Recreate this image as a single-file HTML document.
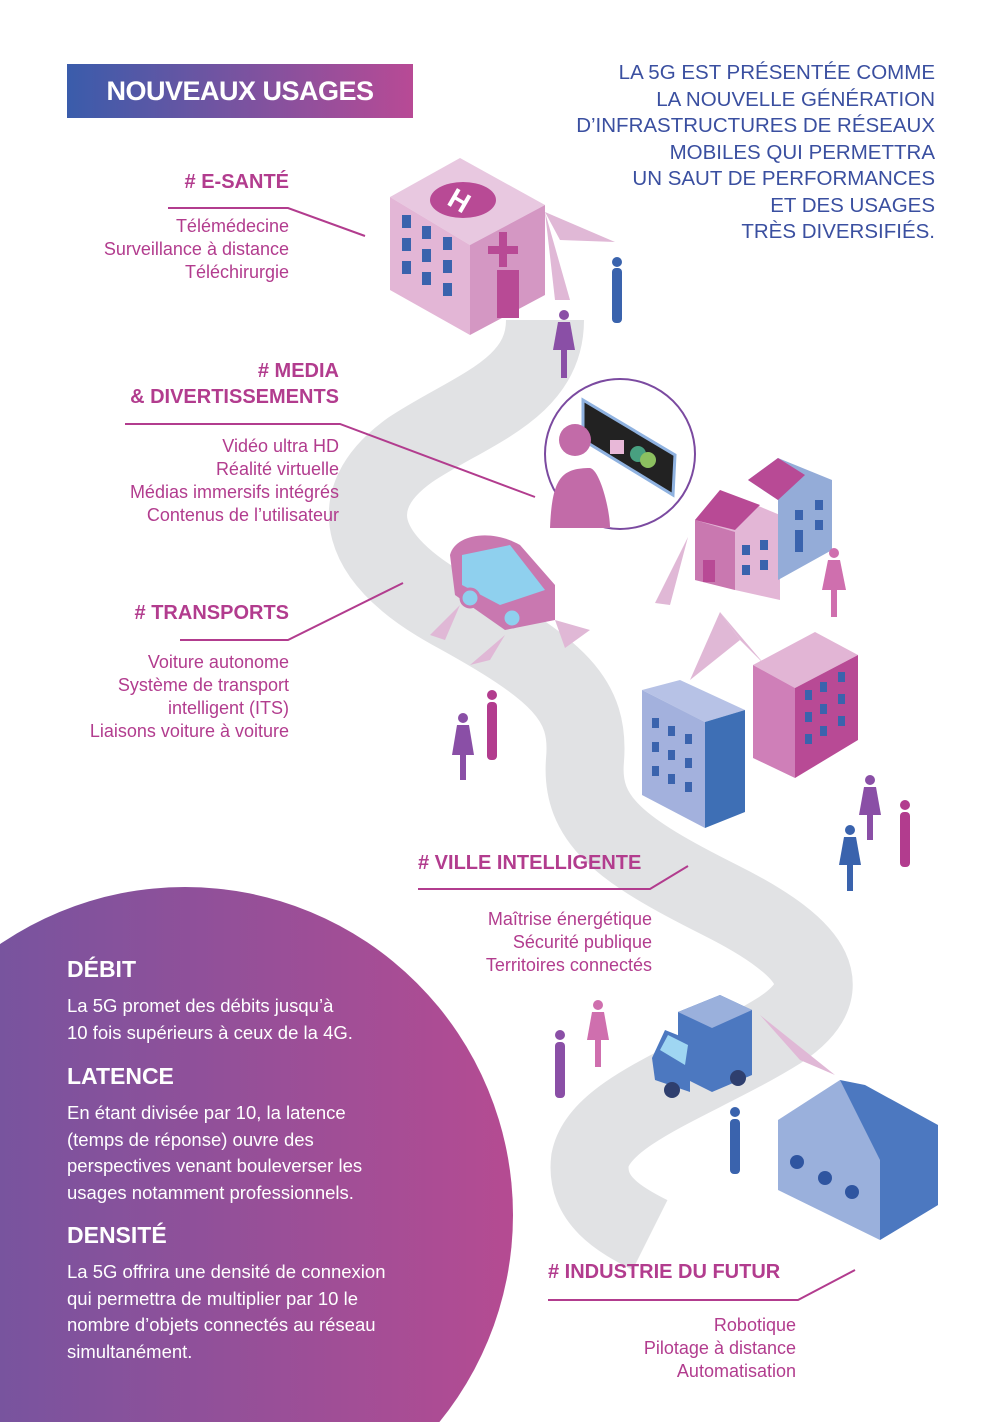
<!DOCTYPE html>
<html><head><meta charset="utf-8"><style>
html,body{margin:0;background:#fff;overflow:hidden;width:1004px;height:1422px;}
#c{position:relative;width:1004px;height:1422px;overflow:hidden;font-family:"Liberation Sans",sans-serif;}
.t{position:absolute;color:#b23c8e;font-size:18px;line-height:23px;text-align:right;}
.h{font-weight:bold;font-size:20px;line-height:26px;}
.w{position:absolute;color:#fff;left:67px;}
.w b{font-size:23px;display:block;margin-bottom:10px;}
.w p{margin:0;font-size:18.5px;line-height:26.5px;}
</style></head><body><div id="c">
<svg width="1004" height="1422" style="position:absolute;left:0;top:0">
<defs>
<linearGradient id="g1" x1="0" x2="1"><stop offset="0" stop-color="#3a5cab"/><stop offset="1" stop-color="#b84a95"/></linearGradient>
<linearGradient id="g2" x1="0" x2="1"><stop offset="0" stop-color="#6756a2"/><stop offset="1" stop-color="#b54b92"/></linearGradient>
</defs>
<circle cx="185" cy="1215" r="328" fill="url(#g2)"/>
<path d="M545 320 C545 390 470 410 410 450 C340 500 360 560 450 610 C560 670 590 700 585 760 C580 820 620 850 720 900 C820 950 840 990 780 1030 C700 1080 600 1110 590 1160 C585 1200 620 1220 650 1235" fill="none" stroke="#e1e2e4" stroke-width="78"/>
<g stroke="#b23c8e" stroke-width="2" fill="none">
<polyline points="168,208 288,208 365,236"/>
<polyline points="125,424 340,424 535,497"/>
<polyline points="180,640 288,640 403,583"/>
<polyline points="418,889 650,889 688,866"/>
<polyline points="548,1300 798,1300 855,1270"/>
</g>
<g fill="#e0b8d6">
<polygon points="545,212 615,242 560,240"/><polygon points="545,212 570,300 555,300"/>
<polygon points="688,537 655,603 670,605"/>
<polygon points="720,612 690,680 740,640"/><polygon points="720,612 765,665 740,640"/>
<polygon points="430,635 460,605 445,640"/><polygon points="470,665 505,635 490,660"/><polygon points="555,620 590,630 565,648"/>
<polygon points="760,1015 835,1075 800,1060"/>
</g>
<polygon points="390,197 460,158 545,205 470,245" fill="#e8c8e0"/>
<polygon points="390,197 470,245 470,335 390,290" fill="#e3b6d6"/>
<polygon points="470,245 545,205 545,295 470,335" fill="#d497c3"/>
<ellipse cx="463" cy="200" rx="33" ry="18" fill="#b84a95"/>
<text x="450" y="212" fill="#fff" font-size="28" font-weight="bold" transform="rotate(30 463 200)">H</text>
<g fill="#3a63ad"><rect x="402" y="215" width="9" height="13"/><rect x="422" y="226" width="9" height="13"/><rect x="443" y="237" width="9" height="13"/><rect x="402" y="238" width="9" height="13"/><rect x="422" y="249" width="9" height="13"/><rect x="443" y="260" width="9" height="13"/><rect x="402" y="261" width="9" height="13"/><rect x="422" y="272" width="9" height="13"/><rect x="443" y="283" width="9" height="13"/></g>
<rect x="497" y="270" width="22" height="48" fill="#b84a95"/><path d="M488 250h30M503 232v35" stroke="#b84a95" stroke-width="8"/>
<circle cx="620" cy="454" r="75" fill="#fff" stroke="#7b4aa0" stroke-width="2"/>
<polygon points="583,400 675,455 673,495 583,440" fill="#222" stroke="#8fb2e0" stroke-width="3"/>
<circle cx="575" cy="440" r="16" fill="#c26ba8"/><path d="M550 528 C552 480 560 468 590 468 C600 470 610 510 610 528Z" fill="#c26ba8"/>
<circle cx="638" cy="454" r="8" fill="#48a080"/><circle cx="648" cy="460" r="8" fill="#8cc060"/><rect x="610" y="440" width="14" height="14" fill="#e8b8d8"/>
<polygon points="695,520 720,490 780,515 780,600 735,590 695,580" fill="#e3b6d6"/>
<polygon points="748,480 778,458 832,480 832,550 778,580 778,500" fill="#94acd8"/>
<polygon points="695,520 720,490 760,505 735,530" fill="#b84a95"/><polygon points="748,480 778,458 805,475 778,500" fill="#b84a95"/>
<polygon points="695,520 735,532 735,590 695,580" fill="#c978b0"/>
<rect x="703" y="560" width="12" height="22" fill="#b84a95"/>
<g fill="#3a63ad"><rect x="742" y="545" width="8" height="10"/><rect x="760" y="540" width="8" height="10"/><rect x="742" y="565" width="8" height="10"/><rect x="760" y="560" width="8" height="10"/><rect x="795" y="510" width="8" height="10"/><rect x="815" y="500" width="8" height="10"/><rect x="795" y="530" width="8" height="22"/><rect x="815" y="520" width="8" height="10"/></g>
<path d="M450 555 C455 535 490 528 520 545 L555 585 L555 620 L505 630 L455 595Z" fill="#c978b0"/>
<polygon points="462,555 510,545 545,590 500,605 462,585" fill="#8fd0ee"/>
<circle cx="470" cy="598" r="9" fill="#8fd0ee" stroke="#c978b0" stroke-width="3"/><circle cx="512" cy="618" r="9" fill="#8fd0ee" stroke="#c978b0" stroke-width="3"/>
<polygon points="642,690 680,680 745,710 705,722" fill="#b7c2e6"/>
<polygon points="642,690 705,722 705,828 642,795" fill="#a3b1dd"/>
<polygon points="705,722 745,710 745,812 705,828" fill="#3e6fb5"/>
<g fill="#3a63ad"><rect x="652" y="718" width="7" height="10"/><rect x="668" y="726" width="7" height="10"/><rect x="685" y="734" width="7" height="10"/><rect x="652" y="742" width="7" height="10"/><rect x="668" y="750" width="7" height="10"/><rect x="685" y="758" width="7" height="10"/><rect x="652" y="766" width="7" height="10"/><rect x="668" y="774" width="7" height="10"/><rect x="685" y="782" width="7" height="10"/></g>
<polygon points="753,665 815,632 858,655 795,688" fill="#e2b5d5"/>
<polygon points="753,665 795,688 795,778 753,758" fill="#cf7fb8"/>
<polygon points="795,688 858,655 858,740 795,778" fill="#b84a95"/>
<g fill="#3a63ad"><rect x="805" y="690" width="7" height="10"/><rect x="820" y="682" width="7" height="10"/><rect x="838" y="672" width="7" height="10"/><rect x="805" y="712" width="7" height="10"/><rect x="820" y="704" width="7" height="10"/><rect x="838" y="694" width="7" height="10"/><rect x="805" y="734" width="7" height="10"/><rect x="820" y="726" width="7" height="10"/><rect x="838" y="716" width="7" height="10"/></g>
<polygon points="678,1012 720,995 752,1010 752,1075 712,1092 678,1075" fill="#4c78c0"/>
<polygon points="678,1012 720,995 752,1010 712,1028" fill="#9ab0dc"/>
<polygon points="652,1058 665,1030 690,1040 690,1092 655,1080" fill="#4c78c0"/>
<polygon points="660,1050 668,1035 688,1045 685,1065" fill="#9fd6f2"/>
<circle cx="672" cy="1090" r="8" fill="#2f3f6e"/><circle cx="738" cy="1078" r="8" fill="#2f3f6e"/>
<polygon points="778,1120 840,1080 938,1130 938,1205 880,1240 778,1190" fill="#9ab0dc"/>
<polygon points="840,1080 865,1085 938,1125 938,1205 880,1240 880,1160" fill="#4c78c0"/>
<g fill="#2f55a0"><circle cx="797" cy="1162" r="7"/><circle cx="825" cy="1178" r="7"/><circle cx="852" cy="1192" r="7"/></g>
<g>
<g fill="#3a63ad"><circle cx="617" cy="262" r="5"/><rect x="612" y="268" width="10" height="55" rx="4"/></g>
<g fill="#8a4fa6"><circle cx="564" cy="315" r="5"/><polygon points="558,322 570,322 575,350 553,350"/><rect x="561" y="350" width="6" height="28"/></g>
<g fill="#cf6fae"><circle cx="834" cy="553" r="5"/><polygon points="828,560 840,560 846,590 822,590"/><rect x="831" y="590" width="6" height="27"/></g>
<g fill="#8a4fa6"><circle cx="463" cy="718" r="5"/><polygon points="457,725 469,725 474,755 452,755"/><rect x="460" y="755" width="6" height="25"/></g>
<g fill="#b23c8e"><circle cx="492" cy="695" r="5"/><rect x="487" y="702" width="10" height="58" rx="4"/></g>
<g fill="#8a4fa6"><circle cx="870" cy="780" r="5"/><polygon points="864,787 876,787 881,815 859,815"/><rect x="867" y="815" width="6" height="25"/></g>
<g fill="#b23c8e"><circle cx="905" cy="805" r="5"/><rect x="900" y="812" width="10" height="55" rx="4"/></g>
<g fill="#3a63ad"><circle cx="850" cy="830" r="5"/><polygon points="844,837 856,837 861,865 839,865"/><rect x="847" y="865" width="6" height="26"/></g>
<g fill="#8a4fa6"><circle cx="560" cy="1035" r="5"/><rect x="555" y="1042" width="10" height="56" rx="4"/></g>
<g fill="#cf6fae"><circle cx="598" cy="1005" r="5"/><polygon points="592,1012 604,1012 609,1040 587,1040"/><rect x="595" y="1040" width="6" height="27"/></g>
<g fill="#3a63ad"><circle cx="735" cy="1112" r="5"/><rect x="730" y="1119" width="10" height="55" rx="4"/></g>
</g>
</svg>
<div style="position:absolute;left:67px;top:64px;width:346px;height:54px;background:linear-gradient(90deg,#3a5cab,#b84a95);color:#fff;font-weight:bold;font-size:27px;line-height:54px;text-align:center;letter-spacing:-0.5px">NOUVEAUX USAGES</div>
<div style="position:absolute;right:69px;top:60px;text-align:right;color:#3a4fa0;font-size:20.5px;line-height:26.5px">LA 5G EST PRÉSENTÉE COMME<br>LA NOUVELLE GÉNÉRATION<br>D’INFRASTRUCTURES DE RÉSEAUX<br>MOBILES QUI PERMETTRA<br>UN SAUT DE PERFORMANCES<br>ET DES USAGES<br>TRÈS DIVERSIFIÉS.</div>
<div class="t h" style="right:715px;top:169px"># E-SANTÉ</div>
<div class="t" style="right:715px;top:215px">Télémédecine<br>Surveillance à distance<br>Téléchirurgie</div>
<div class="t h" style="right:665px;top:358px"># MEDIA<br>&amp; DIVERTISSEMENTS</div>
<div class="t" style="right:665px;top:435px">Vidéo ultra HD<br>Réalité virtuelle<br>Médias immersifs intégrés<br>Contenus de l’utilisateur</div>
<div class="t h" style="right:715px;top:600px"># TRANSPORTS</div>
<div class="t" style="right:715px;top:651px">Voiture autonome<br>Système de transport<br>intelligent (ITS)<br>Liaisons voiture à voiture</div>
<div class="t h" style="left:418px;top:850px;text-align:left"># VILLE INTELLIGENTE</div>
<div class="t" style="right:352px;top:908px">Maîtrise énergétique<br>Sécurité publique<br>Territoires connectés</div>
<div class="t h" style="left:548px;top:1259px;text-align:left"># INDUSTRIE DU FUTUR</div>
<div class="t" style="right:208px;top:1314px">Robotique<br>Pilotage à distance<br>Automatisation</div>
<div class="w" style="top:956px"><b>DÉBIT</b><p>La 5G promet des débits jusqu’à<br>10 fois supérieurs à ceux de la 4G.</p></div>
<div class="w" style="top:1063px"><b>LATENCE</b><p>En étant divisée par 10, la latence<br>(temps de réponse) ouvre des<br>perspectives venant bouleverser les<br>usages notamment professionnels.</p></div>
<div class="w" style="top:1222px"><b>DENSITÉ</b><p>La 5G offrira une densité de connexion<br>qui permettra de multiplier par 10 le<br>nombre d’objets connectés au réseau<br>simultanément.</p></div>
</div></body></html>
